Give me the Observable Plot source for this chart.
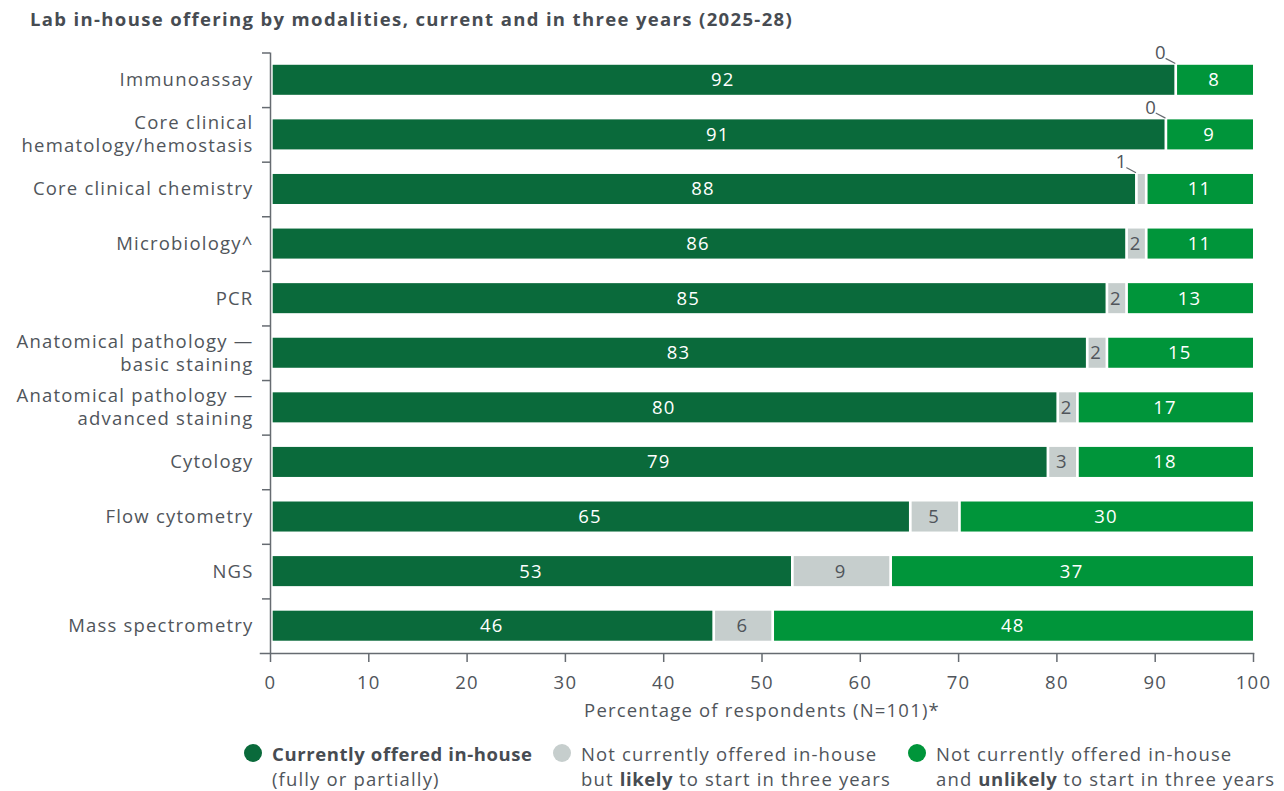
<!DOCTYPE html>
<html><head><meta charset="utf-8">
<script src="https://cdn.jsdelivr.net/npm/d3@7"></script>
<script src="https://cdn.jsdelivr.net/npm/@observablehq/plot@0.6"></script>
<style>
body{margin:0;background:#fff;font-family:"Open Sans",sans-serif;color:#50555b;width:1284px;height:791px;overflow:hidden;position:relative}
#title{position:absolute;left:30px;top:6px;font-weight:700;font-size:18.5px;letter-spacing:1.35px;color:#474c52;white-space:nowrap}
#chart{position:absolute;left:0;top:40px}
.leg{position:absolute;top:740.5px;font-size:18.5px;letter-spacing:1.15px;line-height:25px;white-space:nowrap;color:#50555b}
.leg b{font-weight:700;color:#474c52;letter-spacing:0.6px}
.dot{position:absolute;width:18px;height:18px;border-radius:50%;left:-28px;top:3.5px}
</style></head><body>
<div id="title">Lab in-house offering by modalities, current and in three years (2025-28)</div>
<div id="chart"></div>
<div id="legend"></div>
<script>
const categories = ["Immunoassay","Core clinical hematology/hemostasis","Core clinical chemistry","Microbiology^","PCR","Anatomical pathology — basic staining","Anatomical pathology — advanced staining","Cytology","Flow cytometry","NGS","Mass spectrometry"];
const categoryLabels = ["Immunoassay","Core clinical\nhematology/hemostasis","Core clinical chemistry","Microbiology^","PCR","Anatomical pathology —\nbasic staining","Anatomical pathology —\nadvanced staining","Cytology","Flow cytometry","NGS","Mass spectrometry"];
// bar lengths as drawn
const current  = [92, 91, 88, 87, 85, 83, 80, 79, 65, 53, 45];
const likely   = [0, 0, 1, 2, 2, 2, 2, 3, 5, 10, 6];
const unlikely = [8, 9, 11, 11, 13, 15, 18, 18, 30, 37, 49];
// printed value labels
const currentLabels  = [92, 91, 88, 86, 85, 83, 80, 79, 65, 53, 46];
const likelyLabels   = [0, 0, 1, 2, 2, 2, 2, 3, 5, 9, 6];
const unlikelyLabels = [8, 9, 11, 11, 13, 15, 17, 18, 30, 37, 48];
const seriesNames = ["Currently offered in-house", "Not currently offered in-house but likely to start in three years", "Not currently offered in-house and unlikely to start in three years"];
const legendLines = [
  ["<b>Currently offered in-house</b>", "(fully or partially)"],
  ["Not currently offered in-house", "but <b>likely</b> to start in three years"],
  ["Not currently offered in-house", "and <b>unlikely</b> to start in three years"]
];
const colors = ["#0a6a3b", "#c6cecd", "#00953a"];
const labelColors = ["#ffffff", "#50555b", "#ffffff"];
const xTicks = [0, 10, 20, 30, 40, 50, 60, 70, 80, 90, 100];
const xLabel = "Percentage of respondents (N=101)*";

const values = [current, likely, unlikely];
const labels = [currentLabels, likelyLabels, unlikelyLabels];
const rows = [];
categories.forEach((c, i) => {
  seriesNames.forEach((s, k) => {
    rows.push({cat: c, series: s, k, value: values[k][i], label: labels[k][i], inside: values[k][i] >= 1.5});
  });
});

const FS = 18.5;
const txt = "#50555b";
const axisColor = "#666b71";

const plot = Plot.plot({
  width: 1284,
  height: 690,
  marginLeft: 270,
  marginRight: 31,
  marginTop: 12.5,
  marginBottom: 77,
  style: {fontFamily: "Open Sans", fontSize: FS + "px", color: txt, background: "white", letterSpacing: "1.2px"},
  x: {domain: [0, 100], axis: null},
  y: {domain: categories, paddingInner: 0.45, paddingOuter: 0.225, round: false, axis: null},
  color: {domain: seriesNames, range: colors},
  marks: [
    Plot.barX(rows, Plot.stackX({x: "value", y: "cat", z: "series", fill: "series", insetLeft: 2.7})),
    Plot.text(rows, Plot.filter(d => d.inside, Plot.stackX({x: "value", y: "cat", z: "series", text: d => String(d.label), fill: d => labelColors[d.k], fontSize: FS}))),
    Plot.text(rows, Plot.filter(d => !d.inside, Plot.stackX1({x: "value", y: "cat", z: "series", text: d => String(d.label), fill: txt, fontSize: FS, dx: -14, dy: -27}))),
    Plot.vector(rows, Plot.filter(d => !d.inside, Plot.stackX1({x: "value", y: "cat", z: "series", dy: -17, anchor: "start", length: 10, rotate: -62, stroke: axisColor, strokeWidth: 1.2, fill: "none",
      shape: {draw(context, l) { context.moveTo(0, 0); context.lineTo(0, -l); }}}))),
    Plot.ruleX([0], {stroke: axisColor, strokeWidth: 1.5}),
    Plot.frame({anchor: "bottom", insetLeft: -10, stroke: axisColor, strokeWidth: 1.5}),
    Plot.axisY({tickSize: 0, tickPadding: 17, dy: -1.5, fontSize: FS, lineHeight: 1.25, color: txt, label: null, tickFormat: d => categoryLabels[categories.indexOf(d)]}),
    Plot.axisY({tickSize: 8, dy: -27.3, label: null, tickFormat: () => "", stroke: axisColor, strokeWidth: 1.5}),
    Plot.axisX({ticks: xTicks, tickSize: 9, tickPadding: 13, fontSize: FS, stroke: axisColor, strokeWidth: 1.5, fill: txt, label: null}),
    Plot.text([xLabel], {x: () => 50, text: d => d, frameAnchor: "bottom", dy: 63, fontSize: FS, fill: txt, letterSpacing: "1.5px"})
  ]
});
document.getElementById("chart").appendChild(plot);

const lefts = [272, 581, 936];
const leg = document.getElementById("legend");
legendLines.forEach((lines, k) => {
  const div = document.createElement("div");
  div.className = "leg";
  div.style.left = lefts[k] + "px";
  div.innerHTML = `<span class="dot" style="background:${colors[k]}"></span>${lines[0]}<br>${lines[1]}`;
  leg.appendChild(div);
});
</script>
</body></html>
